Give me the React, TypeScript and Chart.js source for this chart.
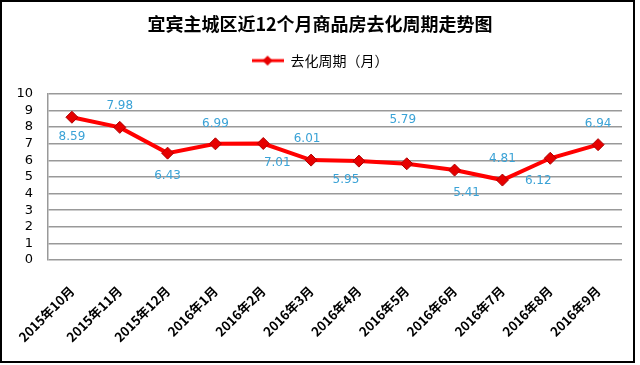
import React, { useEffect, useRef } from "react";
import { Chart, registerables } from "chart.js";

Chart.register(...registerables);

const chartTitle = "宜宾主城区近12个月商品房去化周期走势图";
const seriesName = "去化周期（月）";
const months = [
  "2015年10月", "2015年11月", "2015年12月", "2016年1月", "2016年2月", "2016年3月",
  "2016年4月", "2016年5月", "2016年6月", "2016年7月", "2016年8月", "2016年9月",
];
const cycleMonths = [8.59, 7.98, 6.43, 6.99, 7.01, 6.01, 5.95, 5.79, 5.41, 4.81, 6.12, 6.94];
const yMin = 0;
const yMax = 10;
const yStep = 1;

// label placement offsets (style only, in pixels relative to each point)
const labelDx = [0, 0, 0, 0, 14, -4, -13, -4, 12, 0, -12, 0];
const labelDy = [20, -21, 23, -20, 19, -21, 19, -44, 23, -21, 23, -21];

export default function App() {
  const ref = useRef<HTMLCanvasElement>(null);
  useEffect(() => {
    document.body.style.margin = "0";
    const icon = document.createElement("canvas");
    icon.width = 32;
    icon.height = 12;
    const c = icon.getContext("2d")!;
    c.strokeStyle = "#ff0000";
    c.lineWidth = 3;
    c.beginPath();
    c.moveTo(0, 6);
    c.lineTo(32, 6);
    c.stroke();
    c.fillStyle = "#e60000";
    c.beginPath();
    c.moveTo(16, 1);
    c.lineTo(21, 6);
    c.lineTo(16, 11);
    c.lineTo(11, 6);
    c.closePath();
    c.fill();

    const framePlugin = {
      id: "frame",
      beforeDraw(chart: any) {
        const ctx = chart.ctx;
        ctx.save();
        ctx.fillStyle = "#fff";
        ctx.fillRect(0, 0, chart.width, chart.height);
        ctx.restore();
      },
      afterDraw(chart: any) {
        const ctx = chart.ctx;
        ctx.save();
        ctx.strokeStyle = "#000";
        ctx.lineWidth = 2;
        ctx.strokeRect(1, 1, 633, 361);
        ctx.restore();
      },
    };

    const labelPlugin = {
      id: "valueLabels",
      afterDatasetsDraw(chart: any) {
        const ctx = chart.ctx;
        const meta = chart.getDatasetMeta(0);
        ctx.save();
        ctx.font = "12px 'DejaVu Sans'";
        ctx.fillStyle = "#3aa2d6";
        ctx.textAlign = "center";
        ctx.textBaseline = "middle";
        meta.data.forEach((pt: any, i: number) => {
          const v = chart.data.datasets[0].data[i] as number;
          ctx.fillText(v.toFixed(2), pt.x + labelDx[i], pt.y + labelDy[i]);
        });
        ctx.restore();
      },
    };

    const chart = new Chart(ref.current!, {
      type: "line",
      data: {
        labels: months,
        datasets: [
          {
            label: seriesName,
            data: cycleMonths,
            yAxisID: "y",
            borderColor: "#ff0000",
            borderWidth: 4,
            pointStyle: "rectRot",
            pointRadius: 6,
            pointBackgroundColor: "#e60000",
            pointBorderColor: "#b00000",
            pointBorderWidth: 1,
            tension: 0,
          },
        ],
      },
      options: {
        responsive: false,
        animation: false,
        layout: { padding: 0 },
        plugins: {
          title: {
            display: true,
            text: chartTitle,
            color: "#000",
            font: { family: "'Noto Sans CJK SC'", size: 18, weight: "bold" },
            padding: { top: 13, bottom: -6 },
          },
          subtitle: {
            display: true,
            text: " ",
            font: { size: 1 },
            padding: { top: 0, bottom: 15 },
            weight: 500,
          } as any,
          legend: {
            display: true,
            position: "top",
            labels: {
              usePointStyle: true,
              pointStyle: icon as any,
              pointStyleWidth: 32,
              color: "#000",
              font: { family: "'Noto Sans CJK SC'", size: 14 },
              padding: 25,
            },
          },
          tooltip: { enabled: false },
        },
        scales: {
          x: {
            offset: true,
            grid: { display: false },
            border: { display: false },
            ticks: {
              autoSkip: false,
              minRotation: 45,
              maxRotation: 45,
              color: "#000",
              font: { family: "'Noto Sans CJK SC'", size: 13, weight: "bold" },
              padding: 15,
            },
            afterFit(s: any) {
              s.height = 105;
            },
          },
          y: {
            position: "left",
            min: yMin,
            max: yMax,
            ticks: {
              stepSize: yStep,
              autoSkip: false,
              color: "#000",
              font: { family: "'DejaVu Sans'", size: 13 },
              padding: 15,
            },
            grid: { color: "#999", lineWidth: 1.5, drawTicks: false },
            border: { display: true, color: "#999", width: 1.5 },
            afterFit(s: any) {
              s.width = 48;
            },
          },
          yRight: {
            type: "linear",
            position: "right",
            min: yMin,
            max: yMax,
            grid: { display: false, drawTicks: false },
            border: { display: false },
            ticks: { display: false },
            afterFit(s: any) {
              s.width = 18;
            },
          },
        },
      },
      plugins: [framePlugin, labelPlugin],
    });
    return () => chart.destroy();
  }, []);
  return <canvas ref={ref} width={640} height={365} style={{ display: "block" }} />;
}
